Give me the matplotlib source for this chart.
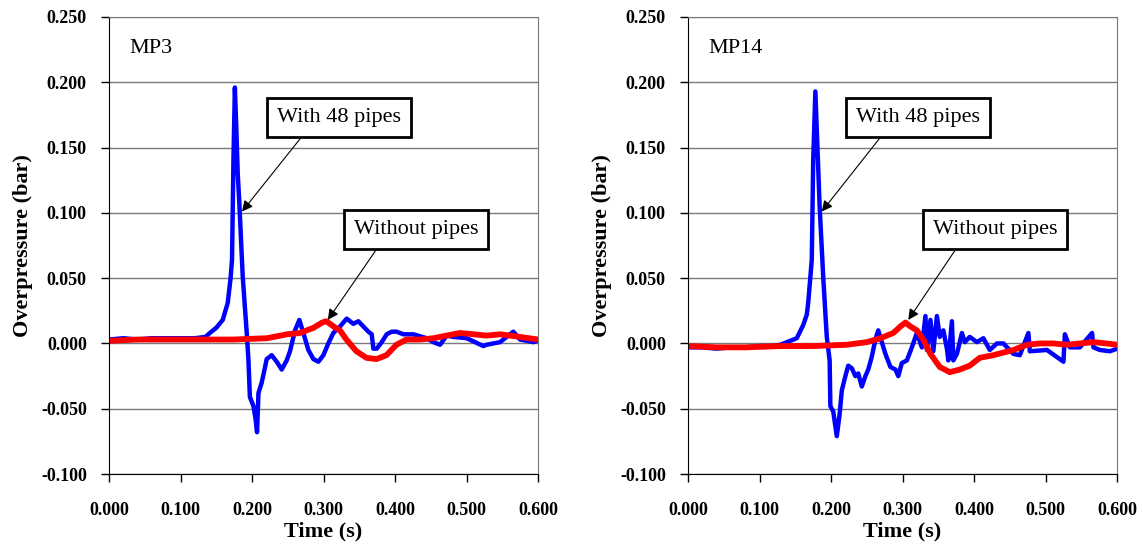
import numpy as np
import matplotlib.pyplot as plt
from matplotlib.ticker import FormatStrFormatter

plt.rcParams['font.family'] = 'Liberation Serif'
plt.rcParams['axes.unicode_minus'] = False

# MP3 records (time in s, overpressure in bar)
mp3_pipes_time = [0.000, 0.020, 0.040, 0.060, 0.080, 0.100, 0.120, 0.135,
                  0.141, 0.150, 0.159, 0.166, 0.170, 0.172, 0.174, 0.176,
                  0.178, 0.180, 0.182, 0.187, 0.193, 0.195, 0.197, 0.202,
                  0.205, 0.207, 0.209, 0.2135, 0.2175, 0.2205, 0.2275, 0.2345,
                  0.2415, 0.2485, 0.2531, 0.2601, 0.2662, 0.2718, 0.2788,
                  0.2858, 0.2928, 0.2998, 0.3067, 0.3137, 0.3231, 0.3324,
                  0.3417, 0.3487, 0.3557, 0.3627, 0.3674, 0.3697, 0.3744,
                  0.3814, 0.3884, 0.3953, 0.4023, 0.4116, 0.4256, 0.4443,
                  0.4536, 0.4629, 0.4723, 0.4816, 0.5003, 0.5235, 0.5282,
                  0.5469, 0.5655, 0.5748, 0.5934, 0.600]
mp3_pipes_bar = [0.003, 0.004, 0.003, 0.004, 0.004, 0.004, 0.004, 0.005,
                 0.008, 0.012, 0.018, 0.031, 0.050, 0.064, 0.140, 0.196,
                 0.165, 0.130, 0.110, 0.051, 0.005, -0.013, -0.041, -0.048,
                 -0.058, -0.068, -0.038, -0.030, -0.020, -0.012, -0.009, -0.014,
                 -0.020, -0.013, -0.006, 0.010, 0.018, 0.008, -0.005,
                 -0.012, -0.014, -0.009, 0.000, 0.008, 0.013, 0.019,
                 0.015, 0.017, 0.013, 0.009, 0.007, -0.004, -0.004,
                 0.001, 0.007, 0.009, 0.009, 0.007, 0.007, 0.004,
                 0.001, -0.001, 0.006, 0.005, 0.004, -0.002, -0.001,
                 0.001, 0.009, 0.003, 0.001, 0.002]

mp3_empty_time = [0.000, 0.040, 0.080, 0.127, 0.174, 0.221, 0.249, 0.267,
                  0.286, 0.298, 0.304, 0.314, 0.323, 0.332, 0.346, 0.360,
                  0.374, 0.388, 0.402, 0.416, 0.435, 0.454, 0.472, 0.491,
                  0.510, 0.528, 0.547, 0.575, 0.600]
mp3_empty_bar = [0.002, 0.003, 0.003, 0.003, 0.003, 0.004, 0.007, 0.008,
                 0.012, 0.016, 0.017, 0.013, 0.010, 0.003, -0.006, -0.011,
                 -0.012, -0.009, -0.001, 0.003, 0.003, 0.004, 0.006, 0.008,
                 0.007, 0.006, 0.007, 0.005, 0.003]

# MP14 records
mp14_pipes_time = [0.000, 0.020, 0.040, 0.060, 0.080, 0.100, 0.120, 0.129,
                   0.143, 0.152, 0.161, 0.166, 0.168, 0.173, 0.175, 0.178,
                   0.184, 0.189, 0.194, 0.198, 0.199, 0.203, 0.208, 0.212,
                   0.215, 0.220, 0.224, 0.229, 0.234, 0.238, 0.243, 0.248,
                   0.252, 0.257, 0.262, 0.266, 0.271, 0.276, 0.283, 0.290,
                   0.294, 0.299, 0.306, 0.313, 0.320, 0.327, 0.332, 0.334,
                   0.339, 0.343, 0.348, 0.352, 0.357, 0.362, 0.364, 0.369,
                   0.371, 0.376, 0.383, 0.387, 0.394, 0.404, 0.413, 0.422,
                   0.432, 0.441, 0.455, 0.464, 0.476, 0.478, 0.502, 0.525,
                   0.527, 0.534, 0.548, 0.565, 0.567, 0.576, 0.590, 0.600]
mp14_pipes_bar = [-0.003, -0.003, -0.004, -0.003, -0.003, -0.002, -0.002, -0.001,
                  0.002, 0.004, 0.014, 0.022, 0.031, 0.064, 0.140, 0.193,
                  0.105, 0.051, 0.005, -0.013, -0.048, -0.052, -0.071, -0.054,
                  -0.036, -0.025, -0.017, -0.019, -0.025, -0.023, -0.033, -0.025,
                  -0.020, -0.010, 0.003, 0.010, 0.001, -0.008, -0.018, -0.020,
                  -0.025, -0.015, -0.013, -0.003, 0.008, -0.003, 0.021, -0.005,
                  0.018, -0.006, 0.021, 0.005, 0.010, -0.004, -0.013, 0.017,
                  -0.013, -0.008, 0.008, 0.001, 0.005, 0.001, 0.004, -0.005,
                  0.000, 0.000, -0.008, -0.009, 0.008, -0.006, -0.005, -0.014,
                  0.007, -0.003, -0.003, 0.008, -0.003, -0.005, -0.006, -0.004]

mp14_empty_time = [0.000, 0.040, 0.080, 0.129, 0.175, 0.222, 0.250, 0.269,
                   0.287, 0.297, 0.304, 0.311, 0.320, 0.329, 0.339, 0.352,
                   0.366, 0.380, 0.394, 0.408, 0.427, 0.455, 0.474, 0.492,
                   0.511, 0.530, 0.548, 0.567, 0.585, 0.600]
mp14_empty_bar = [-0.002, -0.003, -0.003, -0.002, -0.002, -0.001, 0.001, 0.004,
                  0.008, 0.013, 0.016, 0.013, 0.010, 0.003, -0.008, -0.018,
                  -0.022, -0.020, -0.017, -0.011, -0.009, -0.005, -0.001, 0.000,
                  0.000, -0.001, 0.000, 0.001, 0.000, -0.001]

x_ticks = [0.0, 0.1, 0.2, 0.3, 0.4, 0.5, 0.6]
y_ticks = [-0.10, -0.05, 0.00, 0.05, 0.10, 0.15, 0.20, 0.25]

box_style = dict(boxstyle='square,pad=0.45', fc='white', ec='black', lw=2)


def draw_panel(ax, name, t_pipes, p_pipes, t_empty, p_empty, peak_tip, empty_tip):
    ax.plot(t_pipes, p_pipes, color='#0000ff', lw=3.2, solid_joinstyle='round')
    ax.plot(t_empty, p_empty, color='#ff0000', lw=4.2, solid_joinstyle='round')

    ax.set_xlim(0, 0.6)
    ax.set_ylim(-0.1, 0.25)
    ax.set_xticks(x_ticks)
    ax.set_yticks(y_ticks)
    ax.xaxis.set_major_formatter(FormatStrFormatter('%.3f'))
    ax.yaxis.set_major_formatter(FormatStrFormatter('%.3f'))
    ax.grid(axis='y', color='#7a7a7a', lw=1)
    ax.set_axisbelow(True)
    ax.tick_params(direction='out', length=6, width=1, labelsize=13)
    ax.tick_params(axis='x', pad=14)
    ax.tick_params(axis='y', pad=10)
    for lab in ax.get_xticklabels() + ax.get_yticklabels():
        lab.set_fontweight('bold')
    for side in ['top', 'right']:
        ax.spines[side].set_color('#7a7a7a')
    for side in ['left', 'bottom']:
        ax.spines[side].set_color('black')

    ax.set_xlabel('Time (s)', fontsize=16, fontweight='bold', labelpad=2)
    ax.set_ylabel('Overpressure (bar)', fontsize=16, fontweight='bold',
                  labelpad=6)

    ax.text(0.029, 0.226, name, fontsize=16, ha='left', va='center')

    ax.annotate('With 48 pipes', xy=peak_tip, xytext=(0.322, 0.173),
                fontsize=16, ha='center', va='center', bbox=box_style,
                arrowprops=dict(arrowstyle='-|>', color='black', lw=0.8,
                                mutation_scale=16, shrinkA=0, shrinkB=0,
                                relpos=(0.26, 0)))
    ax.annotate('Without pipes', xy=empty_tip, xytext=(0.429, 0.087),
                fontsize=16, ha='center', va='center', bbox=box_style,
                arrowprops=dict(arrowstyle='-|>', color='black', lw=0.8,
                                mutation_scale=16, shrinkA=0, shrinkB=0,
                                relpos=(0.24, 0)))


fig = plt.figure(figsize=(11.43, 5.48), dpi=100)
ax_mp3 = fig.add_axes([0.0954, 0.135, 0.3753, 0.834])
ax_mp14 = fig.add_axes([0.602, 0.135, 0.3753, 0.834])

draw_panel(ax_mp3, 'MP3', mp3_pipes_time, mp3_pipes_bar,
           mp3_empty_time, mp3_empty_bar, (0.186, 0.101), (0.306, 0.018))
draw_panel(ax_mp14, 'MP14', mp14_pipes_time, mp14_pipes_bar,
           mp14_empty_time, mp14_empty_bar, (0.187, 0.101), (0.308, 0.018))

fig.savefig('out.png', dpi=100)
